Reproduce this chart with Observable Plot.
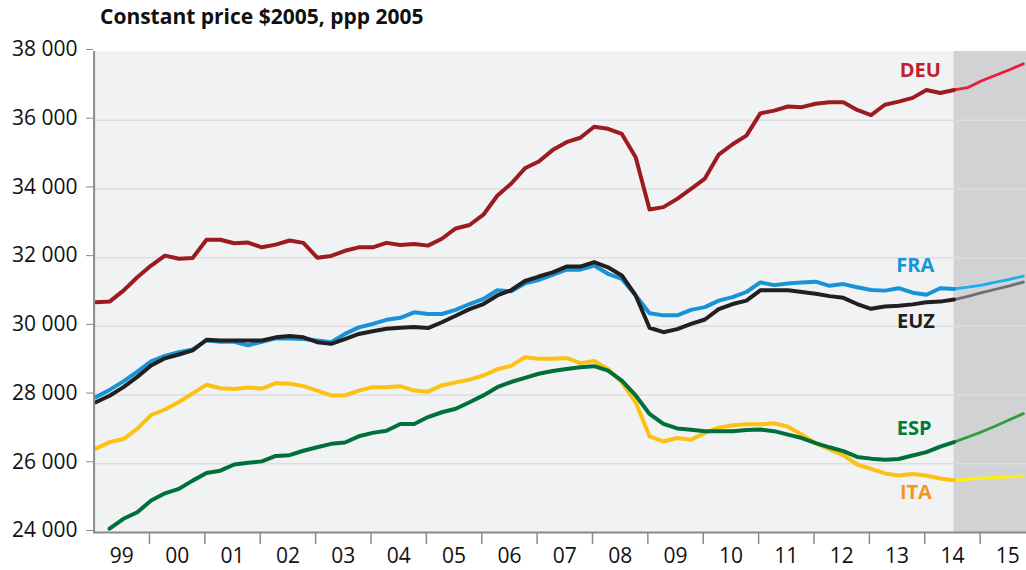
<!DOCTYPE html>
<html><head><meta charset="utf-8">
<script src="https://cdn.jsdelivr.net/npm/d3@7"></script>
<script src="https://cdn.jsdelivr.net/npm/@observablehq/plot@0.6"></script>
<style>
body{margin:0;background:#fff;font-family:"Open Sans",sans-serif;position:relative;}
#title{position:absolute;left:100px;top:3px;font-weight:bold;font-size:21px;line-height:26px;color:#111;}
#chart svg{display:block;}
</style></head><body>
<div id="chart"></div>
<div id="title">Constant price $2005, ppp 2005</div>
<script>
// Quarterly series, 1999Q1 .. 2014Q3 (historical)
const startYear = 1999;
const deu = [30700,30720,31040,31430,31770,32060,31970,31990,32520,32520,32420,32440,32300,32380,32500,32430,
  32000,32050,32200,32300,32300,32430,32370,32400,32350,32550,32850,32950,33250,33800,34150,34600,
  34800,35130,35360,35490,35810,35750,35600,34920,33400,33470,33710,34000,34300,35000,35300,35550,
  36200,36280,36400,36380,36480,36520,36520,36300,36150,36450,36540,36650,36880,36790,36880];
const fra = [27940,28150,28400,28680,28980,29140,29250,29330,29590,29550,29550,29450,29550,29650,29650,29630,
  29590,29540,29780,29970,30070,30190,30250,30410,30360,30360,30480,30650,30800,31050,31020,31250,
  31350,31500,31650,31650,31770,31530,31380,30900,30380,30320,30320,30480,30560,30750,30850,31000,
  31280,31200,31250,31280,31300,31180,31230,31140,31060,31040,31110,30980,30920,31110,31090];
const euz = [27790,27980,28230,28530,28860,29070,29180,29300,29610,29590,29590,29590,29590,29680,29720,29680,
  29540,29490,29630,29780,29860,29930,29960,29980,29950,30120,30310,30500,30650,30900,31050,31320,
  31450,31570,31740,31740,31870,31720,31480,30900,29960,29830,29920,30070,30200,30500,30650,30750,
  31050,31050,31050,31000,30950,30880,30830,30650,30510,30580,30600,30640,30700,30720,30780];
const esp = [null,24110,24400,24590,24930,25140,25270,25510,25730,25800,25980,26030,26070,26230,26250,26380,
  26480,26580,26620,26800,26900,26960,27160,27160,27360,27500,27600,27790,27990,28230,28380,28500,
  28620,28700,28760,28810,28840,28710,28420,27990,27450,27160,27030,26990,26950,26950,26950,26980,
  27000,26950,26850,26750,26600,26480,26370,26200,26150,26120,26140,26240,26340,26500,26630];
const ita = [26440,26630,26720,27020,27420,27580,27800,28050,28300,28200,28180,28220,28190,28350,28330,28260,
  28130,27990,27990,28130,28230,28230,28260,28130,28100,28280,28370,28450,28570,28750,28850,29100,
  29060,29060,29080,28930,28990,28760,28370,27790,26800,26650,26750,26700,26900,27050,27120,27150,
  27150,27180,27080,26850,26600,26420,26250,25980,25850,25720,25660,25700,25660,25570,25520];
// Forecast 2014Q3 .. 2015Q4
const deuF = [36880,36950,37150,37310,37470,37640];
const fraF = [31090,31140,31200,31290,31370,31460];
const euzF = [30780,30870,30980,31080,31180,31290];
const espF = [26630,26780,26930,27100,27280,27460];
const itaF = [25520,25550,25580,25600,25620,25640];

const yTicks = [24000,26000,28000,30000,32000,34000,36000,38000];
const gridTicks = [26000,28000,30000,32000,34000,36000];
const years = d3.range(1999, 2016);
const yearLabels = ["99","00","01","02","03","04","05","06","07","08","09","10","11","12","13","14","15"];
const seriesNames = ["ITA","ESP","FRA","EUZ","DEU"];

const histColor = {DEU:"#9b1b21", FRA:"#1793d6", EUZ:"#231f20", ESP:"#00703b", ITA:"#fdc113"};
const fcColor = {DEU:"#ec1b3b", FRA:"#19aeef", EUZ:"#6d6e71", ESP:"#2f9c40", ITA:"#fff100"};
const labelColor = {DEU:"#be1e2d", FRA:"#1696d6", EUZ:"#231f20", ESP:"#00793d", ITA:"#f7941d"};
const labelPos = {DEU:[2013.92,37444], FRA:[2013.83,31770], EUZ:[2013.84,30125], ESP:[2013.81,27026], ITA:[2013.84,25164]};

const hist = {DEU:deu, FRA:fra, EUZ:euz, ESP:esp, ITA:ita};
const fc = {DEU:deuF, FRA:fraF, EUZ:euzF, ESP:espF, ITA:itaF};
const lastHist = deu.length - 1;
const pos = i => startYear + (i + 0.12) / 4;

const lineMarks = [];
for (const n of seriesNames) {
  const h = hist[n].map((v,i)=>({x:pos(i), y:v})).filter(d=>d.y!=null);
  const f = fc[n].map((v,j)=>({x:pos(lastHist + j), y:v}));
  lineMarks.push(Plot.line(f, {x:"x", y:"y", stroke:fcColor[n], strokeWidth:2.8, strokeLinejoin:"round"}));
  lineMarks.push(Plot.line(h, {x:"x", y:"y", stroke:histColor[n], strokeWidth:4, strokeLinejoin:"round"}));
}
const labels = seriesNames.map(n=>({name:n, x:labelPos[n][0], y:labelPos[n][1]}));
const fmt = d => d3.format(",")(d).replace(",", " ");

const chart = Plot.plot({
  width:1026, height:570,
  marginLeft:93, marginRight:0, marginTop:51, marginBottom:38,
  style:{fontFamily:"'Open Sans', sans-serif", fontSize:"21px", color:"#111", background:"transparent", overflow:"hidden"},
  x:{domain:[1999,2016], range:[93.6,1035], axis:null},
  y:{domain:[24000,38000], axis:null},
  marks:[
    Plot.frame({fill:"#f1f2f4", stroke:null}),
    Plot.rect([0], {x1:pos(lastHist), x2:2016, y1:yTicks[0], y2:yTicks[yTicks.length-1], fill:"#d1d2d4"}),
    Plot.gridY(gridTicks, {stroke:"#dcdde0", strokeOpacity:1, strokeWidth:1.5}),
    ...lineMarks,
    Plot.ruleY([yTicks[0]], {stroke:"#8a8a8a", strokeWidth:2}),
    Plot.ruleX([startYear], {y1:yTicks[0], y2:yTicks[yTicks.length-1], stroke:"#8a8a8a", strokeWidth:2}),
    Plot.axisY(yTicks, {anchor:"left", label:null, tickSize:7, tickPadding:9, tickFormat:fmt, stroke:"#8a8a8a", fill:"#111", fontSize:21, dy:-2}),
    Plot.axisX(years.slice(1), {anchor:"bottom", label:null, tickSize:12, tickFormat:()=>"", stroke:"#8a8a8a", strokeWidth:1.5}),
    Plot.axisX(years.map(y=>y+0.5), {anchor:"bottom", label:null, tickSize:0, tickPadding:16, tickFormat:(d,i)=>yearLabels[i], fill:"#111", fontSize:21}),
    Plot.text(labels, {x:"x", y:"y", text:"name", fill:d=>labelColor[d.name], fontWeight:"bold", fontSize:20})
  ]
});
document.getElementById("chart").append(chart);
</script>
</body></html>
